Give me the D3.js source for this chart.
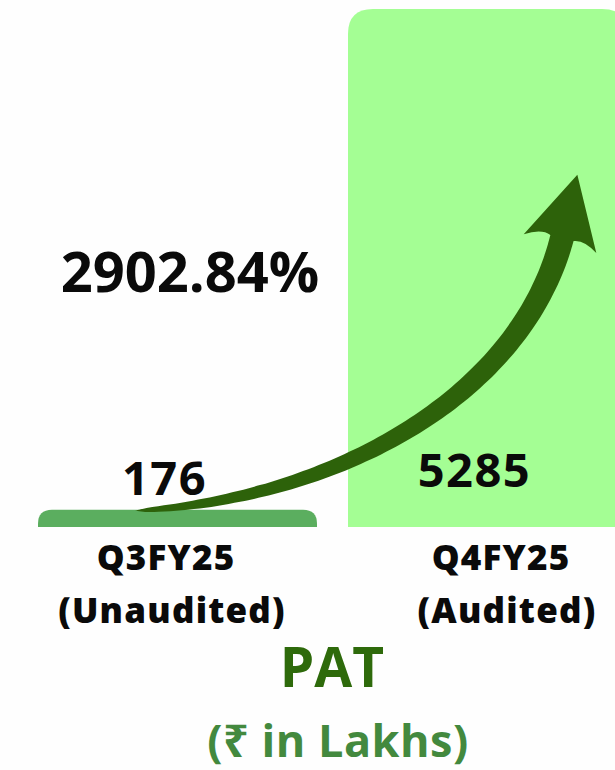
<!DOCTYPE html>
<html>
<head>
<meta charset="utf-8">
<script src="https://cdn.jsdelivr.net/npm/d3@7"></script>
<style>
  html, body { margin: 0; padding: 0; background: #fefefe; }
  svg { display: block; }
  text { font-family: "Open Sans", "Noto Sans", sans-serif; font-weight: 700; }
  .cat { font-weight: 800; }
</style>
</head>
<body>
<script>

	// chart values
	var periods = ["Q3FY25", "Q4FY25"];
	var periodNotes = ["(Unaudited)", "(Audited)"];
	var patValues = [176, 5285];
	var growthLabel = "2902.84%";
	var titleText = "PAT";
	var unitText = "(\u20B9 in Lakhs)";

	var width = 615,
	    height = 770;

	var svg = d3.select( "body" )
	    .append( "svg" )
	    .attr( "width", width )
	    .attr( "height", height );

	var baseY = 527;

	var x = d3.scaleBand()
	    .domain( periods )
	    .range( [38, 627] )
	    .paddingInner( 0.1 )
	    .paddingOuter( 0 );

	var y = d3.scaleLinear()
	    .domain( [0, 5285] )
	    .range( [baseY, 9] );

	var barColors = ["#5bae5f", "#a4fe94"];
	var radii = [14, 25];

	// bar with rounded top corners
	function topRounded( x0, y0, w, h, r ) {
		r = Math.min( r, h, w / 2 );
		return "M" + x0 + "," + ( y0 + h ) +
			"V" + ( y0 + r ) +
			"Q" + x0 + "," + y0 + " " + ( x0 + r ) + "," + y0 +
			"H" + ( x0 + w - r ) +
			"Q" + ( x0 + w ) + "," + y0 + " " + ( x0 + w ) + "," + ( y0 + r ) +
			"V" + ( y0 + h ) + "Z";
	}

	svg.append( "g" ).selectAll( "path" )
	    .data( patValues )
	    .enter()
	    .append( "path" )
	    .attr( "fill", function(d, i){ return barColors[i]; } )
	    .attr( "d", function(d, i){
			return topRounded( x( periods[i] ), y( d ), x.bandwidth(), baseY - y( d ), radii[i] );
		});

	// curved growth arrow, from the first bar's top to inside the second bar
	var p0 = [ x( periods[0] ) + 97, y( patValues[0] ) + 1 ],
	    p1 = [ 330, 500 ],
	    p2 = [ 520, 400 ],
	    p3 = [ x( periods[1] ) + 214, 238 ];

	function bez( t ) {
		var a = (1-t)*(1-t)*(1-t), b = 3*(1-t)*(1-t)*t, c = 3*(1-t)*t*t, e = t*t*t;
		return [ a*p0[0] + b*p1[0] + c*p2[0] + e*p3[0], a*p0[1] + b*p1[1] + c*p2[1] + e*p3[1] ];
	}
	function tangent( t ) {
		var a = 3*(1-t)*(1-t), b = 6*(1-t)*t, c = 3*t*t;
		var dx = a*(p1[0]-p0[0]) + b*(p2[0]-p1[0]) + c*(p3[0]-p2[0]);
		var dy = a*(p1[1]-p0[1]) + b*(p2[1]-p1[1]) + c*(p3[1]-p2[1]);
		var l = Math.sqrt( dx*dx + dy*dy );
		return [ dx / l, dy / l ];
	}

	var halfNeck = 12;
	var upper = [], lower = [];
	d3.range( 0, 1.0001, 0.02 ).forEach(function(t){
		var p = bez( t ), u = tangent( t ), n = [ -u[1], u[0] ];
		var hw = halfNeck * Math.pow( t, 0.45 );
		upper.push( [ p[0] + n[0]*hw, p[1] + n[1]*hw ] );
		lower.push( [ p[0] - n[0]*hw, p[1] - n[1]*hw ] );
	});

	var pe = bez( 1 ), ue = tangent( 1 ), ne = [ -ue[1], ue[0] ];
	function at( along, side ) {
		return [ pe[0] + ue[0]*along + ne[0]*side, pe[1] + ue[1]*along + ne[1]*side ];
	}
	var tip = at( 65, -1 ),
	    barbA = at( -6, 37 ),
	    barbB = at( -6, -38 ),
	    neckB = lower[ lower.length - 1 ],
	    ctrlA = at( 4, 22 ),
	    ctrlB = at( 4, -22 );

	var line = d3.line().curve( d3.curveCatmullRom );
	var arrowPath = line( upper ) +
		"Q" + ctrlA[0] + "," + ctrlA[1] + " " + barbA[0] + "," + barbA[1] +
		"L" + tip[0] + "," + tip[1] +
		"L" + barbB[0] + "," + barbB[1] +
		"Q" + ctrlB[0] + "," + ctrlB[1] + " " + neckB[0] + "," + neckB[1] +
		line( lower.slice().reverse() ).replace( /^M/, "L" ) + "Z";

	svg.append( "path" )
	    .attr( "d", arrowPath )
	    .attr( "fill", "#2d620a" );

	// value labels
	svg.append( "g" ).selectAll( "text" )
	    .data( patValues )
	    .enter()
	    .append( "text" )
	    .attr( "x", function(d, i){ return x( periods[i] ) + x.bandwidth() / 2 - 13; } )
	    .attr( "y", function(d, i){ return i === 0 ? y( d ) - 15 : 487; } )
	    .attr( "text-anchor", "middle" )
	    .attr( "font-size", 47 )
	    .attr( "letter-spacing", 1.5 )
	    .attr( "fill", "#0a0a0a" )
	    .text( function(d){ return d; } );

	// growth label
	svg.append( "text" )
	    .attr( "x", 190 )
	    .attr( "y", 292 )
	    .attr( "text-anchor", "middle" )
	    .attr( "font-size", 56 )
	    .attr( "fill", "#0a0a0a" )
	    .text( growthLabel );

	// category labels
	var labelX = [ 166, 501 ],
	    noteX = [ 172, 507 ];
	var cats = svg.append( "g" ).selectAll( "g" )
	    .data( periods )
	    .enter()
	    .append( "g" );

	cats.append( "text" )
	    .attr( "class", "cat" )
	    .attr( "x", function(d, i){ return labelX[i]; } )
	    .attr( "y", 570 )
	    .attr( "text-anchor", "middle" )
	    .attr( "font-size", 35 )
	    .attr( "letter-spacing", 1.2 )
	    .attr( "fill", "#0a0a0a" )
	    .text( function(d){ return d; } );

	cats.append( "text" )
	    .attr( "class", "cat" )
	    .attr( "x", function(d, i){ return noteX[i]; } )
	    .attr( "y", 623 )
	    .attr( "text-anchor", "middle" )
	    .attr( "font-size", 35 )
	    .attr( "letter-spacing", 1.2 )
	    .attr( "fill", "#0a0a0a" )
	    .text( function(d, i){ return periodNotes[i]; } );

	// title
	svg.append( "text" )
	    .attr( "x", 332 )
	    .attr( "y", 687 )
	    .attr( "text-anchor", "middle" )
	    .attr( "font-size", 55 )
	    .attr( "fill", "#2e6a0b" )
	    .text( titleText );

	svg.append( "text" )
	    .attr( "x", 338 )
	    .attr( "y", 757 )
	    .attr( "text-anchor", "middle" )
	    .attr( "font-size", 45 )
	    .attr( "letter-spacing", 0.5 )
	    .attr( "fill", "#43893e" )
	    .text( unitText );

</script>
</body>
</html>
